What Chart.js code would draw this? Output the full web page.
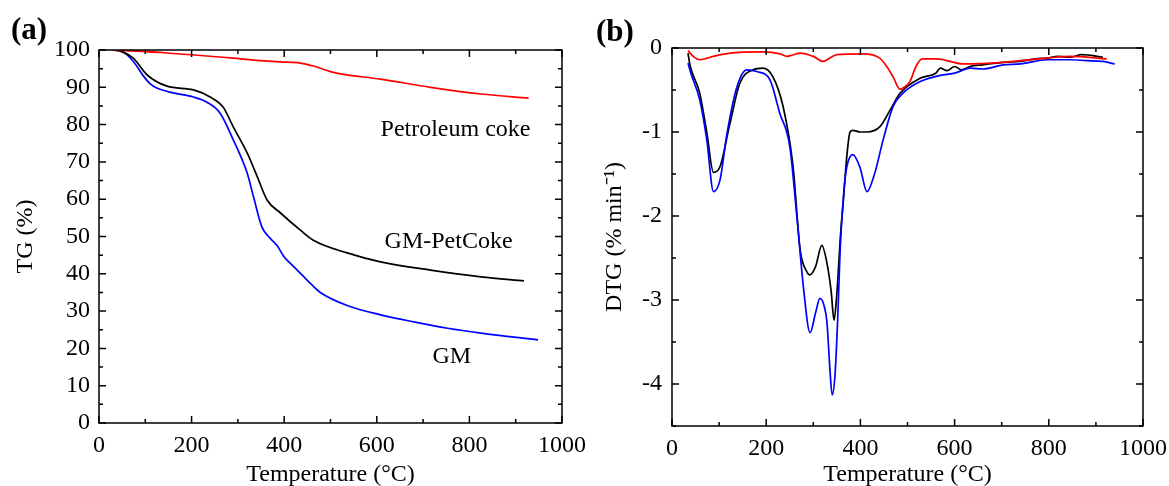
<!DOCTYPE html>
<html>
<head>
<meta charset="utf-8">
<script src="https://cdn.jsdelivr.net/npm/chart.js@4.4.1/dist/chart.umd.min.js"></script>
<style>
    body { margin: 0; background: #fff; width: 1169px; height: 486px; overflow: hidden; position: relative; }
    .panel { position: absolute; top: 0; height: 486px; }
    .tag { position: absolute; font-family: 'Liberation Serif', serif; font-weight: bold; font-size: 31px; color: #000; }
</style>
</head>
<body>
<div class="panel" style="left:0; width:610px;"><canvas id="tgChart"></canvas></div>
<div class="panel" style="left:580px; width:589px;"><canvas id="dtgChart"></canvas></div>
<div class="tag" style="left:11px; top:11px;">(a)</div>
<div class="tag" style="left:596px; top:13px;">(b)</div>
<script>
// TG curves (temperature in °C, mass in %)
const gmTemp = [30, 50, 75, 95, 110, 125, 160, 204, 233, 262, 290, 320, 334, 352, 370, 385, 400, 420, 440, 460, 478, 536, 608, 680, 753, 825, 948];
const gmTG = [100, 99.7, 96.8, 93.2, 91, 89.8, 88.5, 87.4, 86, 83, 75.9, 67, 60.5, 52.5, 49.5, 47.5, 44.5, 42, 39.5, 37, 35, 31.5, 29, 27.1, 25.4, 24.1, 22.3];
const mixTemp = [30, 50, 74, 104, 147, 204, 240, 268, 290, 320, 342, 363, 392, 435, 463, 536, 608, 716, 825, 918];
const mixTG = [100, 99.5, 97.8, 93.3, 90.3, 89.3, 87.4, 84.7, 79.4, 72.4, 66, 59.8, 56.3, 51.7, 49, 45.6, 43.2, 41, 39.2, 38.1];
const pcTemp = [30, 147, 290, 334, 392, 435, 463, 500, 522, 608, 716, 825, 928];
const pcTG = [100, 99.2, 97.8, 97.3, 96.8, 96.5, 95.7, 94.2, 93.6, 92.2, 90, 88.2, 87.1];

// DTG curves (%/min)
const pcDTemp = [34, 45, 59, 75, 88, 123, 193, 230, 244, 258, 272, 300, 321, 335, 350, 405, 441, 456, 470, 484, 492, 505, 518, 531, 562, 618, 703, 796, 845, 923];
const pcDTG = [-0.03, -0.1, -0.14, -0.12, -0.1, -0.06, -0.045, -0.07, -0.1, -0.08, -0.06, -0.1, -0.16, -0.12, -0.08, -0.07, -0.12, -0.22, -0.35, -0.49, -0.47, -0.4, -0.22, -0.13, -0.13, -0.19, -0.17, -0.12, -0.1, -0.13];
const gmDTemp = [34, 40, 59, 74, 88, 102, 117, 138, 159, 180, 208, 229, 250, 265, 280, 293, 305, 314, 322, 329, 335, 340, 346, 352, 357, 365, 371, 384, 399, 414, 430, 448, 469, 490, 527, 575, 600, 633, 660, 703, 740, 796, 845, 880, 915, 940];
const gmDTG = [-0.18, -0.3, -0.62, -1.1, -1.71, -1.57, -1.01, -0.46, -0.26, -0.28, -0.38, -0.78, -1.17, -2.0, -2.9, -3.39, -3.15, -2.98, -3.05, -3.27, -3.8, -4.13, -3.9, -3.2, -2.4, -1.7, -1.42, -1.27, -1.42, -1.71, -1.5, -1.1, -0.7, -0.54, -0.4, -0.32, -0.3, -0.24, -0.25, -0.2, -0.19, -0.14, -0.14, -0.15, -0.16, -0.19];
const mixDTemp = [34, 38, 59, 74, 88, 102, 123, 144, 172, 193, 214, 236, 257, 272, 285, 293, 305, 318, 329, 338, 344, 349, 352, 357, 364, 371, 378, 384, 399, 414, 441, 463, 484, 527, 560, 570, 584, 600, 615, 633, 660, 703, 740, 770, 796, 820, 845, 870, 915];
const mixDTG = [-0.06, -0.2, -0.54, -1.01, -1.48, -1.41, -0.9, -0.42, -0.26, -0.24, -0.34, -0.7, -1.41, -2.4, -2.65, -2.7, -2.6, -2.35, -2.56, -2.9, -3.24, -3.0, -2.76, -2.29, -1.8, -1.3, -1.0, -0.98, -1.0, -1.0, -0.94, -0.74, -0.54, -0.36, -0.3, -0.24, -0.27, -0.22, -0.26, -0.22, -0.2, -0.17, -0.16, -0.13, -0.12, -0.1, -0.11, -0.08, -0.11];

const tgNotes = [
    { text: 'Petroleum coke', x: 770, y: 78.5 },
    { text: 'GM-PetCoke', x: 755, y: 48.5 },
    { text: 'GM', x: 762, y: 17.7 }
];

const FONT = 'Liberation Serif';
const pts = (xs, ys) => xs.map((x, i) => ({ x: x, y: ys[i] }));

// frame with inward major/minor ticks on all four sides
const frameTicks = {
    id: 'frameTicks',
    afterDraw(chart, args, o) {
        const { ctx, chartArea: a, scales } = chart;
        ctx.save();
        ctx.strokeStyle = '#000';
        ctx.lineWidth = 1.5;
        ctx.strokeRect(a.left, a.top, a.right - a.left, a.bottom - a.top);
        ctx.beginPath();
        for (let v = scales.x.min; v <= scales.x.max + 1e-9; v += o.xMinor) {
            const px = scales.x.getPixelForValue(v);
            const len = Math.abs(v / o.xMajor - Math.round(v / o.xMajor)) < 1e-6 ? 7 : 4;
            ctx.moveTo(px, a.bottom); ctx.lineTo(px, a.bottom - len);
            ctx.moveTo(px, a.top); ctx.lineTo(px, a.top + len);
        }
        for (let v = scales.y.min; v <= scales.y.max + 1e-9; v += o.yMinor) {
            const py = scales.y.getPixelForValue(v);
            const len = Math.abs(v / o.yMajor - Math.round(v / o.yMajor)) < 1e-6 ? 7 : 4;
            ctx.moveTo(a.left, py); ctx.lineTo(a.left + len, py);
            ctx.moveTo(a.right, py); ctx.lineTo(a.right - len, py);
        }
        ctx.stroke();
        ctx.restore();
    }
};

const notes = {
    id: 'notes',
    afterDatasetsDraw(chart, args, o) {
        if (!o.items) return;
        const { ctx, scales } = chart;
        ctx.save();
        ctx.fillStyle = '#000';
        ctx.font = '24px "' + FONT + '"';
        ctx.textAlign = 'center';
        ctx.textBaseline = 'middle';
        o.items.forEach(n => ctx.fillText(n.text, scales.x.getPixelForValue(n.x), scales.y.getPixelForValue(n.y)));
        ctx.restore();
    }
};

function line(data, color) {
    return { data: data, borderColor: color, borderWidth: 1.7, pointRadius: 0, tension: 0.3, cubicInterpolationMode: 'monotone', fill: false };
}

function makeChart(id, cfg) {
    const tickFont = { family: FONT, size: 24 };
    return new Chart(document.getElementById(id), {
        type: 'line',
        data: { datasets: cfg.datasets },
        options: {
            responsive: true,
            maintainAspectRatio: false,
            animation: false,
            layout: { padding: cfg.padding },
            plugins: {
                legend: { display: false },
                tooltip: { enabled: false },
                frameTicks: cfg.ticks,
                notes: { items: cfg.notes }
            },
            scales: {
                x: {
                    type: 'linear', min: 0, max: 1000,
                    grid: { display: false, drawTicks: false },
                    border: { display: false },
                    ticks: { stepSize: 200, color: '#000', font: tickFont, padding: 8, maxRotation: 0, autoSkip: false, callback: v => String(v) },
                    title: { display: true, text: 'Temperature (°C)', color: '#000', font: tickFont, padding: { top: 0, bottom: -3 } },
                    afterFit: s => { s.height = cfg.xHeight; s.paddingLeft = 0; s.paddingRight = 0; }
                },
                y: {
                    type: 'linear', min: cfg.yMin, max: cfg.yMax,
                    grid: { display: false, drawTicks: false },
                    border: { display: false },
                    ticks: { stepSize: cfg.yStep, color: '#000', font: tickFont, padding: cfg.yPad, includeBounds: false, callback: v => String(v) },
                    title: { display: true, text: cfg.yTitle, color: '#000', font: tickFont, padding: 0 },
                    afterFit: s => { s.width = cfg.yWidth; s.paddingTop = 0; s.paddingBottom = 0; }
                }
            }
        },
        plugins: [frameTicks, notes]
    });
}

makeChart('tgChart', {
    datasets: [
        line(pts(pcTemp, pcTG), '#ff0000'),
        line(pts(mixTemp, mixTG), '#000000'),
        line(pts(gmTemp, gmTG), '#0000ff')
    ],
    padding: { left: 11, top: 50, right: 48, bottom: 0 },
    xHeight: 63, yWidth: 88, yPad: 9,
    yMin: 0, yMax: 100, yStep: 10, yTitle: 'TG (%)',
    ticks: { xMajor: 200, xMinor: 100, yMajor: 10, yMinor: 5 },
    notes: tgNotes
});

makeChart('dtgChart', {
    datasets: [
        line(pts(pcDTemp, pcDTG), '#ff0000'),
        line(pts(gmDTemp, gmDTG), '#0000ff'),
        line(pts(mixDTemp, mixDTG), '#000000')
    ],
    padding: { left: 20, top: 48, right: 26, bottom: 0 },
    xHeight: 60, yWidth: 72, yPad: 10,
    yMin: -4.5, yMax: 0, yStep: 1, yTitle: 'DTG (% min⁻¹)',
    ticks: { xMajor: 200, xMinor: 100, yMajor: 1, yMinor: 0.5 },
    notes: null
});
</script>
</body>
</html>
